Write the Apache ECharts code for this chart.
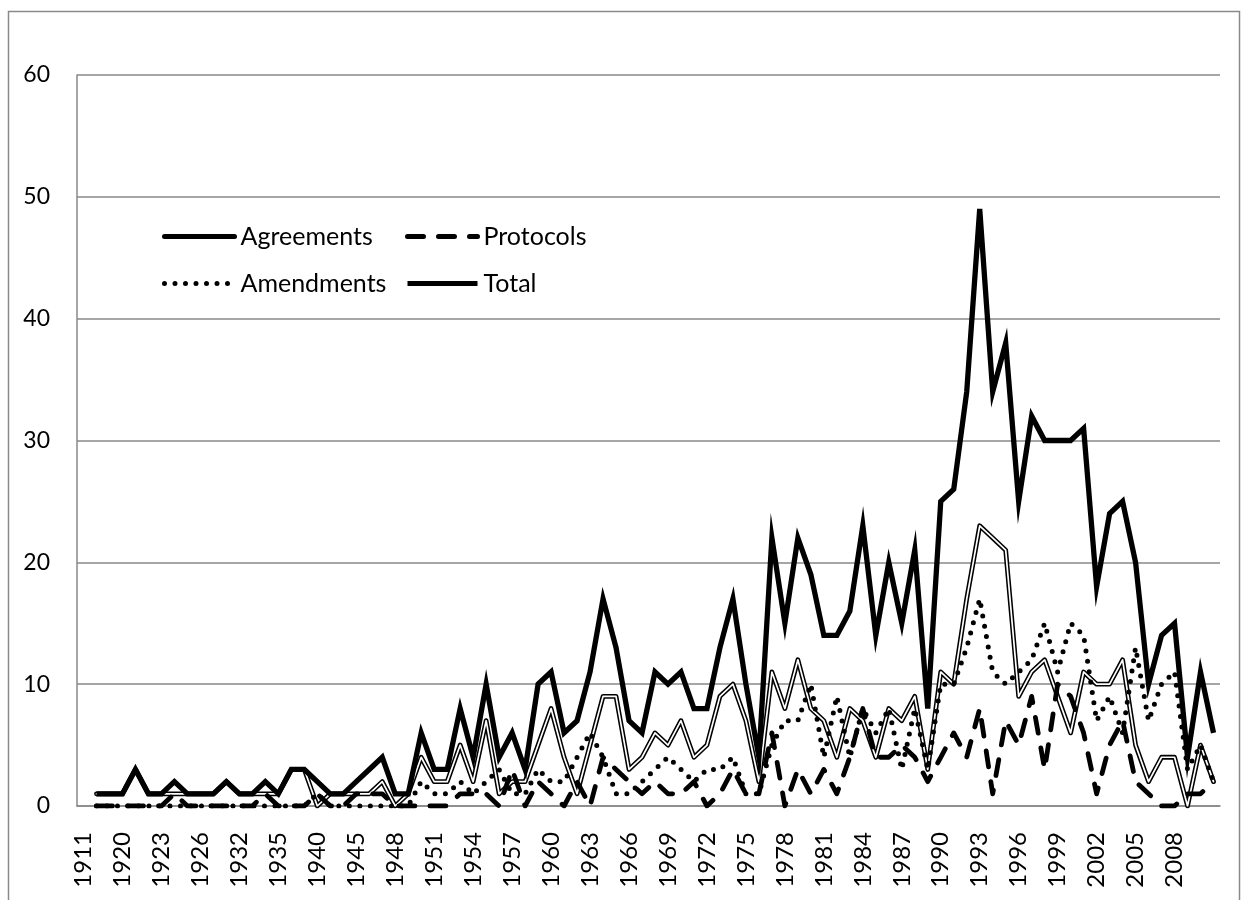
<!DOCTYPE html>
<html><head><meta charset="utf-8">
<script src="https://cdn.jsdelivr.net/npm/echarts@6/dist/echarts.min.js"></script>
<style>html,body{margin:0;padding:0;background:#fff}#c{width:1250px;height:900px}</style>
</head><body><div id="c"></div>
<script>
const years = ['1911','1913','1919','1920','1921','1922','1923','1924','1925','1926','1928','1930','1932','1933','1934','1935','1937','1938','1940','1942','1944','1945','1946','1947',
'1948','1949','1950','1951','1952','1953','1954','1955','1956','1957','1958','1959','1960','1961','1962','1963','1964','1965','1966','1967','1968','1969','1970','1971','1972','1973','1974','1975','1976','1977','1978','1979','1980','1981','1982','1983','1984','1985','1986','1987','1988','1989','1990','1991','1992','1993','1994','1995','1996','1997','1998','1999','2000','2001','2002','2003','2004','2005','2006','2007','2008','2009','2010','2011'];

const agreements = [null,1,1,1,3,1,1,1,1,1, 1,2,1,1,1,1,3,3,0,1, 1,1,1,2,0,1,4,2,2,5, 2,7,1,2,2,5,8,4,1,5, 9,9,3,4,6,5,7,4,5,9, 10,7,2,11,8,12,8,7,4,8, 7,4,8,7,9,3,11,10,17,23, 22,21,9,11,12,9,6,11,10,10, 12,5,2,4,4,0,5,2];
const protocols = [null,0,0,0,0,0,0,1,0,0, 0,0,0,0,1,0,0,0,1,0, 0,1,1,1,0,0,0,0,0,1, 1,1,0,3,0,2,1,0,2,0, 4,3,2,1,2,1,1,2,0,1, 3,1,1,6,0,3,1,3,1,4, 8,4,4,5,4,2,4,6,4,8, 1,7,5,9,3,10,9,6,1,5, 7,2,1,0,0,1,1,2];
const amendments = [null,0,0,0,0,0,0,0,0,0, 0,0,0,0,0,0,0,0,1,0, 0,0,0,0,0,0,2,1,1,2, 1,2,3,1,1,3,2,2,4,6, 4,1,1,2,3,4,3,2,3,3, 4,1,1,5,7,7,10,4,9,4, 8,6,8,3,8,3,10,10,13,17, 11,10,11,12,15,11,15,14,7,9, 6,13,7,10,11,3,5,2];
const total = [null,1,1,1,3,1,1,2,1,1, 1,2,1,1,2,1,3,3,2,1, 1,2,3,4,1,1,6,3,3,8, 4,10,4,6,3,10,11,6,7,11, 17,13,7,6,11,10,11,8,8,13, 17,10,4,22,15,22,19,14,14,16, 23,14,20,15,21,8,25,26,34,49, 34,38,25,32,30,30,30,31,18,24, 25,20,10,14,15,4,11,6];

const FONT = 'Lato';
const chart = echarts.init(document.getElementById('c'), null, {renderer:'canvas'});
const lw = 4.8;
const legendBase = {orient: 'vertical', top: 224, padding: 0,
  itemWidth: 70, itemHeight: 14, itemGap: 22, selectedMode: false,
  itemStyle: {opacity: 0},
  lineStyle: {width: 5},
  textStyle: {fontSize: 25, lineHeight: 25, fontFamily: FONT, color: '#000', padding: [0,0,0,1]}};
chart.setOption({
  animation: false,
  backgroundColor: '#fff',
  grid: {left: 77, right: 30, top: 75, bottom: 94, containLabel: false},
  xAxis: {
    type: 'category', data: years, boundaryGap: true,
    axisLine: {lineStyle: {color: '#888', width: 1.5}},
    axisTick: {show: false},
    axisLabel: {rotate: 90, margin: 26, fontSize: 24, fontFamily: FONT, color: '#000',
      interval: function(i){ return i % 3 === 0 && i < 87; }},
    splitLine: {show: false}
  },
  yAxis: {
    type: 'value', min: 0, max: 60, interval: 10,
    axisLine: {show: true, lineStyle: {color: '#888', width: 1.5}},
    axisTick: {show: false},
    axisLabel: {margin: 27, fontSize: 23, fontFamily: FONT, color: '#000'},
    splitLine: {lineStyle: {color: '#888', width: 1.5}}
  },
  legend: [
    Object.assign({}, legendBase, {data: ['Agreements','Amendments'], left: 162}),
    Object.assign({}, legendBase, {data: ['Protocols','Total'], left: 405})
  ],
  graphic: [{type: 'rect', silent: true, z: -10,
    shape: {x: 8.5, y: 11.5, width: 1231, height: 900},
    style: {fill: null, stroke: '#8a8a8a', lineWidth: 1.5}}],
  series: [
    {name: 'Agreements', type: 'line', data: agreements, symbol: 'none', z: 2,
     lineStyle: {color: '#000', width: lw, join: 'round', cap: 'round'}, itemStyle: {color: '#000'}},
    {name: 'AgreementsInner', type: 'line', data: agreements, symbol: 'none', z: 3,
     lineStyle: {color: '#fff', width: 1.7, join: 'round', cap: 'round'}, itemStyle: {color: '#fff'}},
    {name: 'Protocols', type: 'line', data: protocols, symbol: 'none', z: 4,
     lineStyle: {color: '#000', width: lw, type: [16, 15], cap: 'round', join: 'round'}, itemStyle: {color: '#000'}},
    {name: 'Amendments', type: 'line', data: amendments, symbol: 'none', z: 5,
     lineStyle: {color: '#000', width: 5, type: [0, 10.5], cap: 'round', join: 'round'}, itemStyle: {color: '#000'}},
    {name: 'Total', type: 'line', data: total, symbol: 'none', z: 6,
     lineStyle: {color: '#000', width: 5.3, join: 'miter'}, itemStyle: {color: '#000'}}
  ]
});
</script></body></html>
